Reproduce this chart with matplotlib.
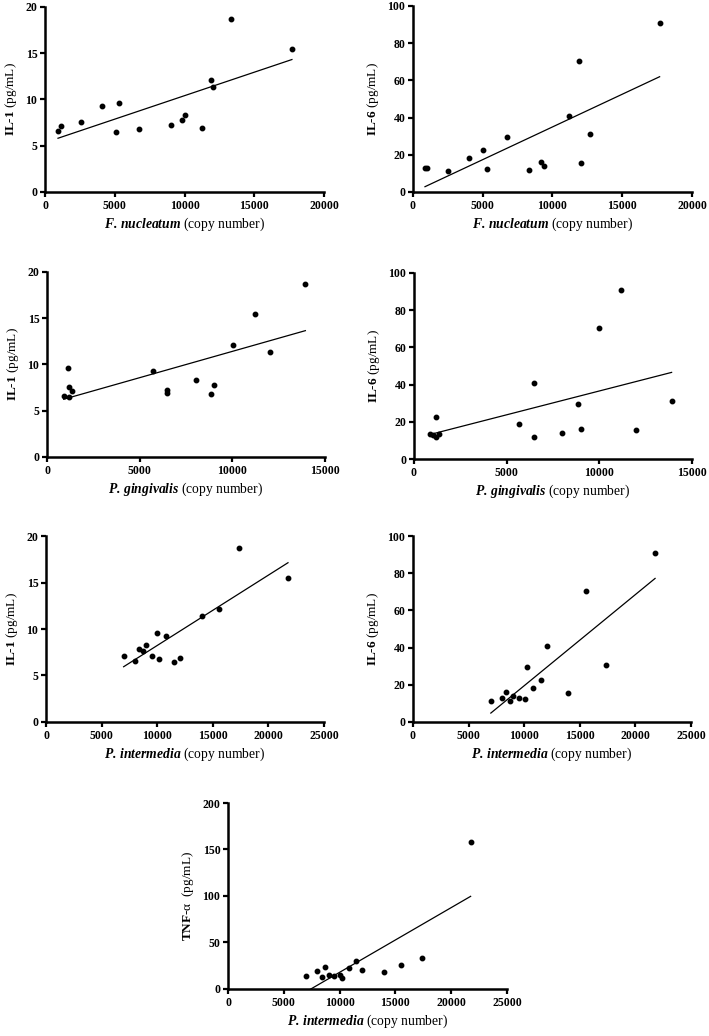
import numpy as np
import matplotlib
matplotlib.use("Agg")
import matplotlib.pyplot as plt

plt.rcParams['font.family'] = ['Liberation Serif', 'DejaVu Serif']
plt.rcParams['mathtext.fontset'] = 'custom'
plt.rcParams['mathtext.rm'] = 'Liberation Serif'
plt.rcParams['mathtext.bf'] = 'Liberation Serif:bold'
plt.rcParams['mathtext.it'] = 'Liberation Serif:italic'
plt.rcParams['mathtext.bfit'] = 'Liberation Serif:italic:bold'

# F. nucleatum vs IL-1 / IL-6
fn_il1_x = [930, 1120, 2560, 4060, 5070, 5300, 6760, 9030, 9820, 10060, 11230, 11920, 12040, 13360, 17700]
fn_il1_y = [6.6, 7.1, 7.6, 9.3, 6.5, 9.6, 6.8, 7.2, 7.8, 8.3, 6.9, 12.1, 11.4, 18.7, 15.5]
fn_il6_x = [860, 1010, 2520, 4020, 5010, 5290, 6730, 8340, 9150, 9370, 11210, 11930, 12020, 12670, 17680]
fn_il6_y = [13.1, 13.1, 11.5, 18.5, 22.4, 12.4, 29.4, 11.7, 16.0, 14.2, 40.8, 70.2, 15.8, 31.1, 91.0]

# P. gingivalis vs IL-1 / IL-6
pg_il1_x = [900, 1120, 1200, 1200, 1370, 5700, 6490, 6490, 8020, 8870, 9010, 10020, 11200, 12010, 13940]
pg_il1_y = [6.6, 9.6, 7.6, 6.5, 7.1, 9.3, 7.2, 6.9, 8.3, 6.8, 7.8, 12.1, 15.5, 11.4, 18.7]
pg_il6_x = [880, 1040, 1170, 1170, 1350, 5670, 6480, 6480, 8000, 8850, 8990, 10000, 11150, 12000, 13900]
pg_il6_y = [13.4, 12.9, 11.6, 22.8, 13.4, 18.6, 40.7, 11.8, 14.2, 29.7, 16.1, 70.4, 91.0, 15.8, 31.0]

# P. intermedia vs IL-1 / IL-6 / TNF-a
pi_il1_x = [6980, 7970, 8390, 8690, 8990, 9500, 9980, 10190, 10790, 11480, 12020, 14000, 15560, 17390, 21760]
pi_il1_y = [7.15, 6.6, 7.8, 7.6, 8.3, 7.1, 9.6, 6.8, 9.3, 6.5, 6.9, 11.4, 12.1, 18.7, 15.5]
pi_il6_x = [7000, 7990, 8380, 8710, 9010, 9520, 10030, 10210, 10810, 11500, 12040, 13980, 15570, 17400, 21770]
pi_il6_y = [11.5, 12.9, 16.0, 11.3, 14.2, 13.1, 12.2, 29.4, 18.5, 22.4, 40.6, 15.6, 70.2, 30.9, 91.0]
pi_tnf_x = [6980, 7960, 8380, 8680, 9010, 9490, 10000, 10210, 10810, 11500, 12010, 13980, 15540, 17400, 21740]
pi_tnf_y = [14.0, 19.0, 12.6, 23.3, 14.7, 14.4, 15.4, 11.5, 22.6, 30.2, 20.5, 18.0, 25.9, 33.8, 157.6]

fig = plt.figure(figsize=(7.09, 10.36), dpi=100)

panels = [
    # rect, x, y, xmax, xstep, ymax, ystep, xname, yname
    ([0.0635, 0.8147, 0.3935, 0.1786], fn_il1_x, fn_il1_y, 20000, 5000, 20, 5, 'F.\\,nucleatum', 'IL'),
    ([0.5825, 0.8147, 0.3935, 0.1796], fn_il6_x, fn_il6_y, 20000, 5000, 100, 20, 'F.\\,nucleatum', 'IL6'),
    ([0.0663, 0.5589, 0.3921, 0.1786], pg_il1_x, pg_il1_y, 15000, 5000, 20, 5, 'P.\\,gingivalis', 'IL'),
    ([0.5839, 0.5569, 0.3921, 0.1796], pg_il6_x, pg_il6_y, 15000, 5000, 100, 20, 'P.\\,gingivalis', 'IL6'),
    ([0.0649, 0.3031, 0.3921, 0.1795], pi_il1_x, pi_il1_y, 25000, 5000, 20, 5, 'P.\\,intermedia', 'IL'),
    ([0.5825, 0.3031, 0.3921, 0.1795], pi_il6_x, pi_il6_y, 25000, 5000, 100, 20, 'P.\\,intermedia', 'IL6'),
    ([0.3216, 0.0454, 0.3935, 0.1795], pi_tnf_x, pi_tnf_y, 25000, 5000, 200, 50, 'P.\\,intermedia', 'TNF'),
]

ylabels = {
    'IL': r'$\mathbf{IL}$-$\mathbf{1}$ (pg/mL)',
    'IL6': r'$\mathbf{IL}$-$\mathbf{6}$ (pg/mL)',
    'TNF': r'$\mathbf{TNF}$-α  (pg/mL)',
}

for rect, x, y, xmax, xstep, ymax, ystep, xname, ykey in panels:
    ax = fig.add_axes(rect)
    x = np.array(x, dtype=float)
    y = np.array(y, dtype=float)
    ax.plot(x, y, 'o', color='black', markersize=3.2, zorder=3, clip_on=False)
    slope, icpt = np.polyfit(x, y, 1)
    xs = np.array([x.min(), x.max()])
    ax.plot(xs, slope * xs + icpt, color='black', linewidth=0.9)
    ax.set_xlim(0, xmax)
    ax.set_ylim(0, ymax)
    ax.set_xticks(np.arange(0, xmax + 1, xstep))
    ax.set_yticks(np.arange(0, ymax + 1, ystep))
    for s in ['top', 'right']:
        ax.spines[s].set_visible(False)
    for s in ['left', 'bottom']:
        ax.spines[s].set_linewidth(1.8)
    ax.tick_params(direction='out', length=3.5, width=1.6, pad=2, labelsize=8.5)
    for lab in ax.get_xticklabels() + ax.get_yticklabels():
        lab.set_fontweight('bold')
    ax.set_xlabel(r'$\mathbfit{' + xname + '}$ (copy number)', fontsize=9.8, labelpad=3)
    ax.set_ylabel(ylabels[ykey], fontsize=9.5, labelpad=5)

fig.savefig('out.png', dpi=100)
